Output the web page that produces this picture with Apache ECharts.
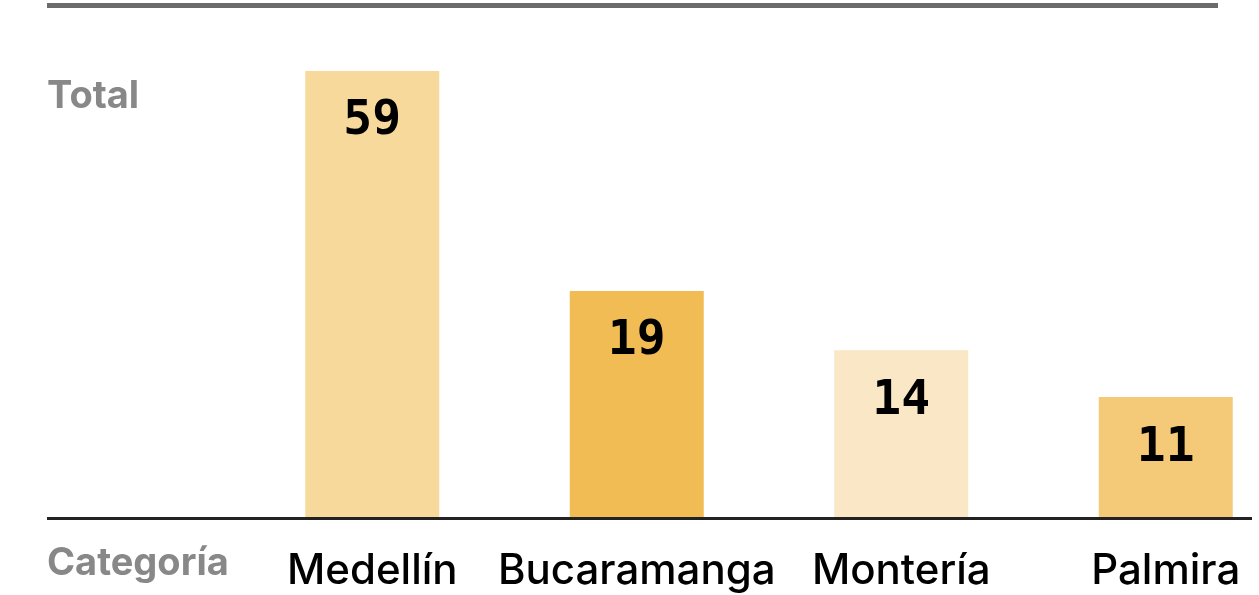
<!DOCTYPE html>
<html>
<head>
<meta charset="utf-8">
<script src="https://cdn.jsdelivr.net/npm/echarts@6/dist/echarts.min.js"></script>
<style>
html,body{margin:0;padding:0;background:#fff;}
#chart{width:1259px;height:595px;}
</style>
</head>
<body>
<div id="chart"></div>
<script>
const categories = ['Medellín', 'Bucaramanga', 'Montería', 'Palmira'];
const totals = [59, 19, 14, 11];
const barColors = ['#F7D99C', '#F2BC54', '#FAE7C5', '#F4C977'];
const yTitle = 'Total';
const xTitle = 'Categoría';

const chart = echarts.init(document.getElementById('chart'));
chart.setOption({
  animation: false,
  grid: { left: 240, width: 1058, top: 71, bottom: 77, outerBoundsMode: 'none', containLabel: false },
  xAxis: {
    type: 'category',
    data: categories,
    axisLine: { show: false },
    axisTick: { show: false },
    axisLabel: {
      color: '#000',
      fontFamily: 'Inter',
      fontWeight: 500,
      fontSize: 42,
      margin: 32,
      interval: 0
    }
  },
  yAxis: {
    type: 'log',
    min: 5.9,
    max: 59,
    show: false
  },
  graphic: [
    { type: 'rect', shape: { x: 47, y: 3, width: 1171, height: 5 }, style: { fill: '#6b6b6b' } },
    { type: 'rect', shape: { x: 47, y: 517, width: 1205, height: 3 }, style: { fill: '#222' }, z: 100 },
    { type: 'text', left: 47, top: 78, style: { text: yTitle, font: 'bold 38px Inter', fill: '#888' } },
    { type: 'text', left: 47, top: 545, style: { text: xTitle, font: 'bold 38px Inter', fill: '#888' } }
  ],
  series: [{
    type: 'bar',
    data: totals.map((v, i) => ({ value: v, itemStyle: { color: barColors[i] } })),
    barWidth: 134,
    clip: true,
    label: {
      show: true,
      position: 'insideTop',
      distance: 27,
      color: '#000',
      fontFamily: 'DejaVu Sans Mono',
      fontWeight: 'bold',
      fontSize: 48
    }
  }]
});
</script>
</body>
</html>
